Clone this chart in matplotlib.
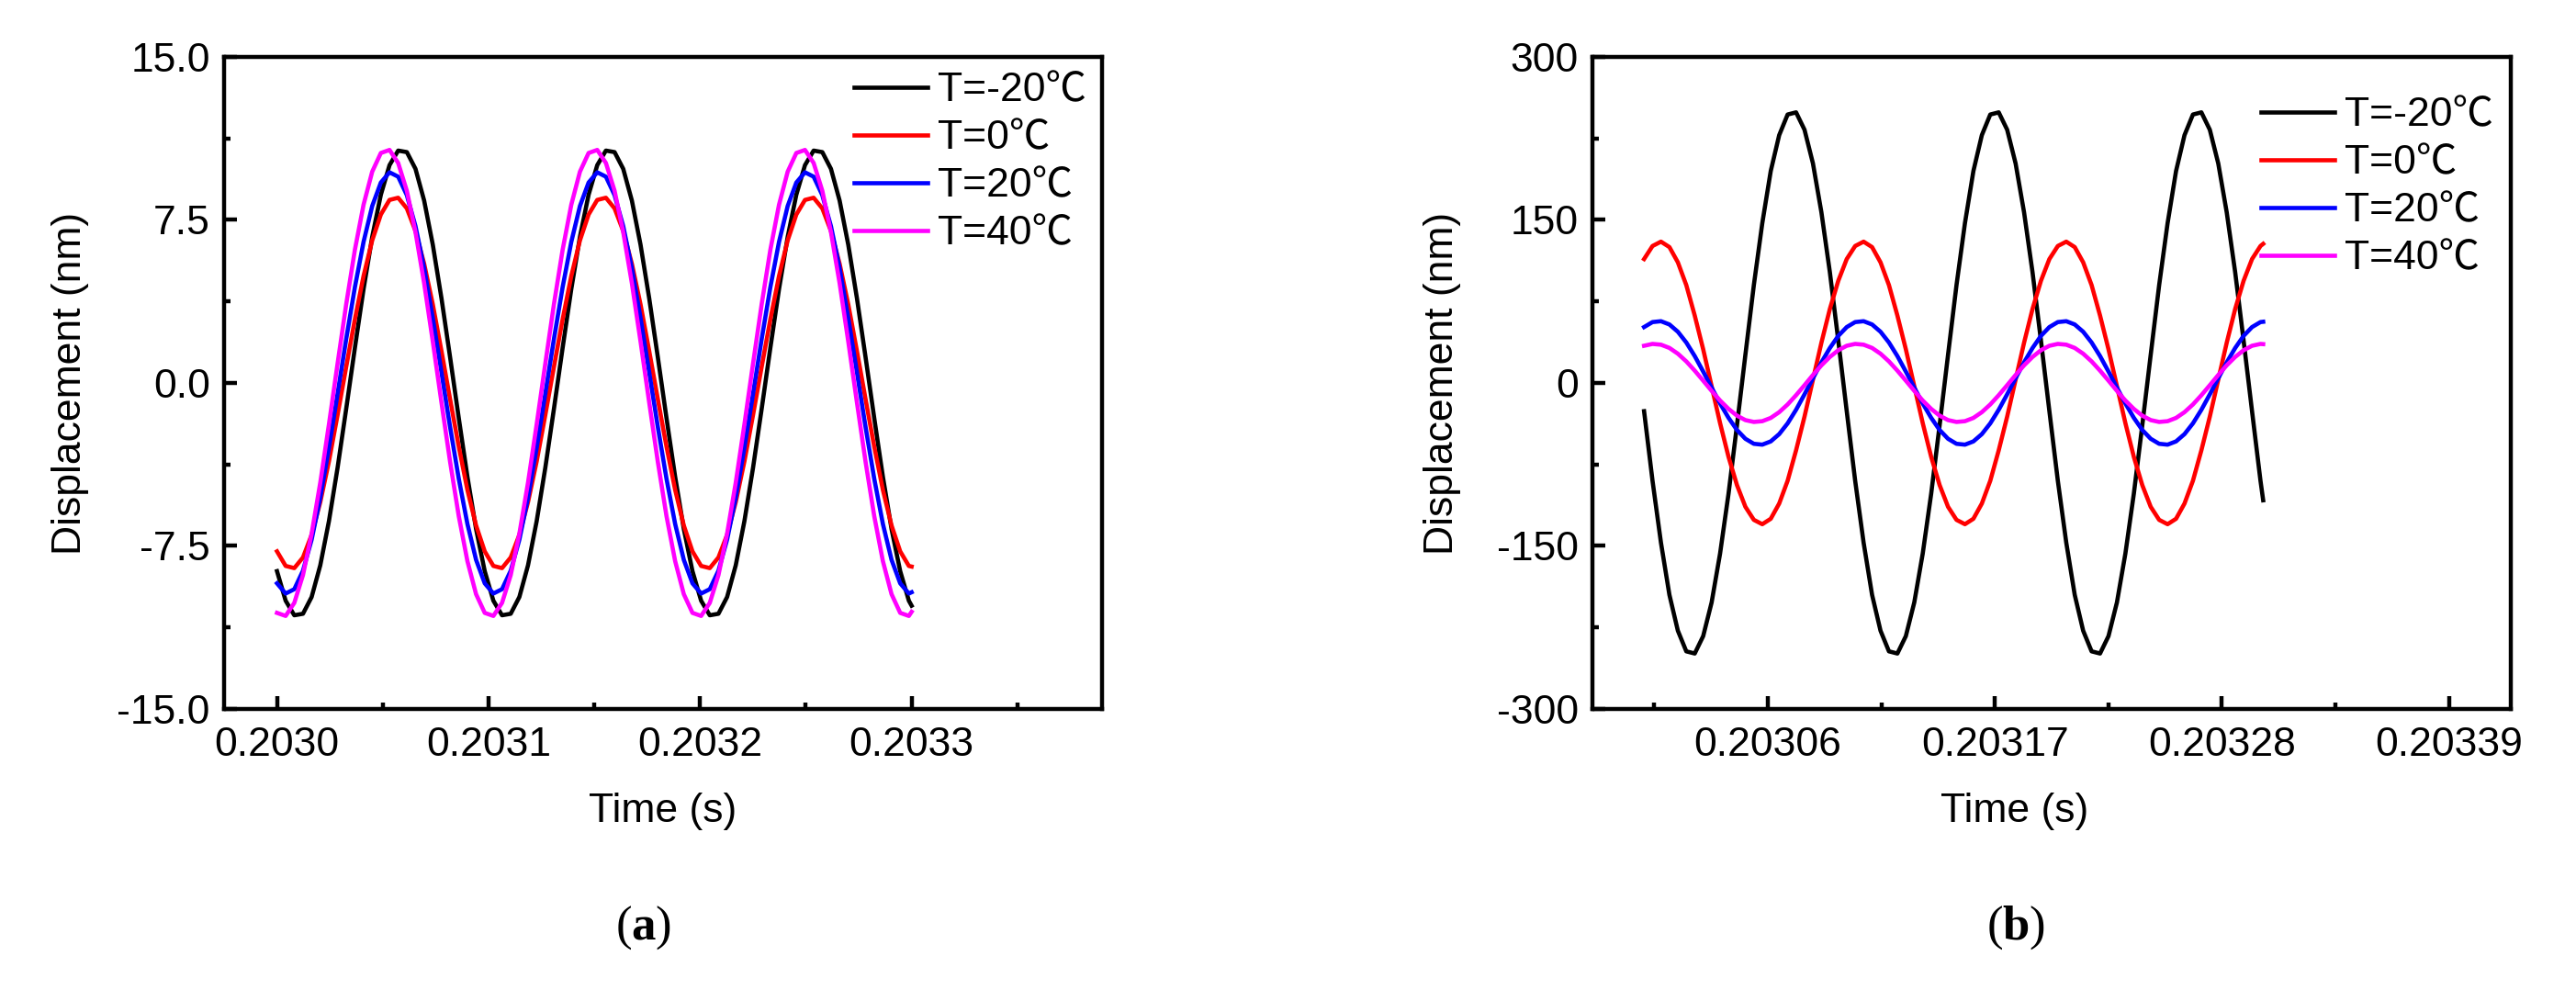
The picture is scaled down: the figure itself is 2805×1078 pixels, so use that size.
import matplotlib
matplotlib.use('Agg')
import matplotlib.pyplot as plt
from matplotlib.ticker import FixedLocator, FormatStrFormatter

# sample times, microseconds after 0.2030 s (both panels use the same samples)
offset_us = [0.00, 4.09, 8.18, 12.28, 16.37, 20.46, 24.55, 28.64, 32.73, 36.83, 40.92, 45.01,
             49.10, 53.19, 57.28, 61.38, 65.47, 69.56, 73.65, 77.74, 81.83, 85.93, 90.02, 94.11,
             98.20, 102.29, 106.38, 110.48, 114.57, 118.66, 122.75, 126.84, 130.93, 135.03, 139.12, 143.21,
             147.30, 151.39, 155.48, 159.58, 163.67, 167.76, 171.85, 175.94, 180.03, 184.13, 188.22, 192.31,
             196.40, 200.49, 204.58, 208.68, 212.77, 216.86, 220.95, 225.04, 229.13, 233.23, 237.32, 241.41,
             245.50, 249.59, 253.68, 257.78, 261.87, 265.96, 270.05, 274.14, 278.23, 282.33, 286.42, 290.51,
             294.60, 298.69, 300.00]
time_s = [0.2030 + u * 1e-6 for u in offset_us]

labels = ['T=-20\u2103', 'T=0\u2103', 'T=20\u2103', 'T=40\u2103']
colors = ['#000000', '#ff0000', '#0000ff', '#ff00ff']

# (a) displacement in nm
a_m20 = [-8.66, -10.02, -10.69, -10.62, -9.85, -8.39, -6.36, -3.90, -1.18, 1.62, 4.32, 6.72,
         8.66, 10.02, 10.69, 10.62, 9.85, 8.39, 6.36, 3.90, 1.18, -1.62, -4.32, -6.72,
         -8.66, -10.02, -10.69, -10.62, -9.85, -8.39, -6.36, -3.90, -1.18, 1.62, 4.32, 6.72,
         8.66, 10.02, 10.69, 10.62, 9.85, 8.39, 6.36, 3.90, 1.18, -1.62, -4.32, -6.72,
         -8.66, -10.02, -10.69, -10.62, -9.85, -8.39, -6.36, -3.90, -1.18, 1.62, 4.32, 6.72,
         8.66, 10.02, 10.69, 10.62, 9.85, 8.39, 6.36, 3.90, 1.18, -1.62, -4.32, -6.72,
         -8.66, -10.02, -10.25]
a_0 = [-7.75, -8.42, -8.52, -8.03, -6.99, -5.48, -3.61, -1.47, 0.75, 2.93, 4.92, 6.56,
       7.75, 8.42, 8.52, 8.03, 6.99, 5.48, 3.61, 1.47, -0.75, -2.93, -4.92, -6.56,
       -7.75, -8.42, -8.52, -8.03, -6.99, -5.48, -3.61, -1.47, 0.75, 2.93, 4.92, 6.56,
       7.75, 8.42, 8.52, 8.03, 6.99, 5.48, 3.61, 1.47, -0.75, -2.93, -4.92, -6.56,
       -7.75, -8.42, -8.52, -8.03, -6.99, -5.48, -3.61, -1.47, 0.75, 2.93, 4.92, 6.56,
       7.75, 8.42, 8.52, 8.03, 6.99, 5.48, 3.61, 1.47, -0.75, -2.93, -4.92, -6.56,
       -7.75, -8.42, -8.45]
a_20 = [-9.22, -9.69, -9.49, -8.64, -7.21, -5.28, -2.99, -0.50, 2.03, 4.41, 6.49, 8.14,
        9.22, 9.69, 9.49, 8.64, 7.21, 5.28, 2.99, 0.50, -2.03, -4.41, -6.49, -8.14,
        -9.22, -9.69, -9.49, -8.64, -7.21, -5.28, -2.99, -0.50, 2.03, 4.41, 6.49, 8.14,
        9.22, 9.69, 9.49, 8.64, 7.21, 5.28, 2.99, 0.50, -2.03, -4.41, -6.49, -8.14,
        -9.22, -9.69, -9.49, -8.64, -7.21, -5.28, -2.99, -0.50, 2.03, 4.41, 6.49, 8.14,
        9.22, 9.69, 9.49, 8.64, 7.21, 5.28, 2.99, 0.50, -2.03, -4.41, -6.49, -8.14,
        -9.22, -9.69, -9.63]
a_40 = [-10.58, -10.72, -10.12, -8.84, -6.94, -4.59, -1.91, 0.89, 3.63, 6.13, 8.20, 9.72,
        10.58, 10.72, 10.12, 8.84, 6.94, 4.59, 1.91, -0.89, -3.63, -6.13, -8.20, -9.72,
        -10.58, -10.72, -10.12, -8.84, -6.94, -4.59, -1.91, 0.89, 3.63, 6.13, 8.20, 9.72,
        10.58, 10.72, 10.12, 8.84, 6.94, 4.59, 1.91, -0.89, -3.63, -6.13, -8.20, -9.72,
        -10.58, -10.72, -10.12, -8.84, -6.94, -4.59, -1.91, 0.89, 3.63, 6.13, 8.20, 9.72,
        10.58, 10.72, 10.12, 8.84, 6.94, 4.59, 1.91, -0.89, -3.63, -6.13, -8.20, -9.72,
        -10.58, -10.72, -10.53]

# (b) displacement in nm
b_m20 = [-26, -90, -147, -195, -228, -247, -249, -233, -202, -157, -102, -39,
         26, 90, 147, 195, 228, 247, 249, 233, 202, 157, 102, 39,
         -26, -90, -147, -195, -228, -247, -249, -233, -202, -157, -102, -39,
         26, 90, 147, 195, 228, 247, 249, 233, 202, 157, 102, 39,
         -26, -90, -147, -195, -228, -247, -249, -233, -202, -157, -102, -39,
         26, 90, 147, 195, 228, 247, 249, 233, 202, 157, 102, 39,
         -26, -90, -108]
b_0 = [114, 126, 130, 125, 111, 90, 62, 31, -3, -37, -68, -94,
       -114, -126, -130, -125, -111, -90, -62, -31, 3, 37, 68, 94,
       114, 126, 130, 125, 111, 90, 62, 31, -3, -37, -68, -94,
       -114, -126, -130, -125, -111, -90, -62, -31, 3, 37, 68, 94,
       114, 126, 130, 125, 111, 90, 62, 31, -3, -37, -68, -94,
       -114, -126, -130, -125, -111, -90, -62, -31, 3, 37, 68, 94,
       114, 126, 128]
b_20 = [51.4, 56.0, 56.8, 53.8, 47.1, 37.2, 24.7, 10.5, -4.3, -18.9, -32.1, -43.3,
        -51.4, -56.0, -56.8, -53.8, -47.1, -37.2, -24.7, -10.5, 4.3, 18.9, 32.1, 43.3,
        51.4, 56.0, 56.8, 53.8, 47.1, 37.2, 24.7, 10.5, -4.3, -18.9, -32.1, -43.3,
        -51.4, -56.0, -56.8, -53.8, -47.1, -37.2, -24.7, -10.5, 4.3, 18.9, 32.1, 43.3,
        51.4, 56.0, 56.8, 53.8, 47.1, 37.2, 24.7, 10.5, -4.3, -18.9, -32.1, -43.3,
        -51.4, -56.0, -56.8, -53.8, -47.1, -37.2, -24.7, -10.5, 4.3, 18.9, 32.1, 43.3,
        51.4, 56.0, 56.3]
b_40 = [34.2, 35.9, 35.2, 32.2, 26.9, 19.8, 11.3, 2.1, -7.3, -16.2, -23.9, -30.1,
        -34.2, -35.9, -35.2, -32.2, -26.9, -19.8, -11.3, -2.1, 7.3, 16.2, 23.9, 30.1,
        34.2, 35.9, 35.2, 32.2, 26.9, 19.8, 11.3, 2.1, -7.3, -16.2, -23.9, -30.1,
        -34.2, -35.9, -35.2, -32.2, -26.9, -19.8, -11.3, -2.1, 7.3, 16.2, 23.9, 30.1,
        34.2, 35.9, 35.2, 32.2, 26.9, 19.8, 11.3, 2.1, -7.3, -16.2, -23.9, -30.1,
        -34.2, -35.9, -35.2, -32.2, -26.9, -19.8, -11.3, -2.1, 7.3, 16.2, 23.9, 30.1,
        34.2, 35.9, 35.7]

a_xticks = [0.2030, 0.2031, 0.2032, 0.2033]
a_xminor = [0.20305, 0.20315, 0.20325, 0.20335]
a_yticks = [-15.0, -7.5, 0.0, 7.5, 15.0]
a_yminor = [-11.25, -3.75, 3.75, 11.25]
b_xticks = [0.20306, 0.20317, 0.20328, 0.20339]
b_xminor = [0.203005, 0.203115, 0.203225, 0.203335]
b_yticks = [-300, -150, 0, 150, 300]
b_yminor = [-225, -75, 75, 225]

plt.rcParams['font.family'] = ['Liberation Sans', 'Noto Sans CJK SC', 'DejaVu Sans']
plt.rcParams['axes.unicode_minus'] = False
plt.rcParams['mathtext.fontset'] = 'custom'
plt.rcParams['mathtext.rm'] = 'Liberation Serif'
plt.rcParams['mathtext.bf'] = 'Liberation Serif:bold'

FS = 32


def draw_panel(ax, series, xlim, ylim, xt, xm, yt, ym, xfmt, yfmt, leg_anchor, ylabelpad):
    for ys, lab, col in zip(series, labels, colors):
        ax.plot(time_s, ys, color=col, lw=3.3, label=lab)
    ax.set_xlim(*xlim)
    ax.set_ylim(*ylim)
    ax.xaxis.set_major_locator(FixedLocator(xt))
    ax.xaxis.set_minor_locator(FixedLocator(xm))
    ax.yaxis.set_major_locator(FixedLocator(yt))
    ax.yaxis.set_minor_locator(FixedLocator(ym))
    ax.xaxis.set_major_formatter(FormatStrFormatter(xfmt))
    ax.yaxis.set_major_formatter(FormatStrFormatter(yfmt))
    ax.tick_params(which='both', direction='in', width=3.2, labelsize=FS)
    ax.tick_params(axis='x', pad=14)
    ax.tick_params(axis='y', pad=11)
    ax.tick_params(which='major', length=10)
    ax.tick_params(which='minor', length=5)
    for sp in ax.spines.values():
        sp.set_linewidth(3.2)
    ax.set_xlabel('Time (s)', fontsize=FS, labelpad=22)
    ax.set_ylabel('Displacement (nm)', fontsize=FS, labelpad=ylabelpad)
    ax.legend(loc='upper left', bbox_to_anchor=leg_anchor, frameon=False, fontsize=FS,
              handlelength=1.8, handletextpad=0.25, labelspacing=0.25,
              borderpad=0, borderaxespad=0)


fig = plt.figure(figsize=(28.05, 10.78), dpi=100)
ax_a = fig.add_axes([0.087, 0.2839, 0.3408, 0.6586])
ax_b = fig.add_axes([0.6182, 0.2839, 0.3565, 0.6586])

draw_panel(ax_a, [a_m20, a_0, a_20, a_40], (0.202975, 0.20339), (-15, 15),
           a_xticks, a_xminor, a_yticks, a_yminor, '%.4f', '%.1f', (0.7176, 0.977), 22)
draw_panel(ax_b, [b_m20, b_0, b_20, b_40], (0.202975, 0.20342), (-300, 300),
           b_xticks, b_xminor, b_yticks, b_yminor, '%.5f', '%d', (0.728, 0.939), 28)
ax_b.xaxis.label.set_x(0.46)

fig.text(0.2496, 0.063, r'$\mathrm{(}\mathbf{a}\mathrm{)}$', fontsize=38, ha='center', va='center')
fig.text(0.7825, 0.063, r'$\mathrm{(}\mathbf{b}\mathrm{)}$', fontsize=38, ha='center', va='center')

fig.savefig('out.png', dpi=100)
